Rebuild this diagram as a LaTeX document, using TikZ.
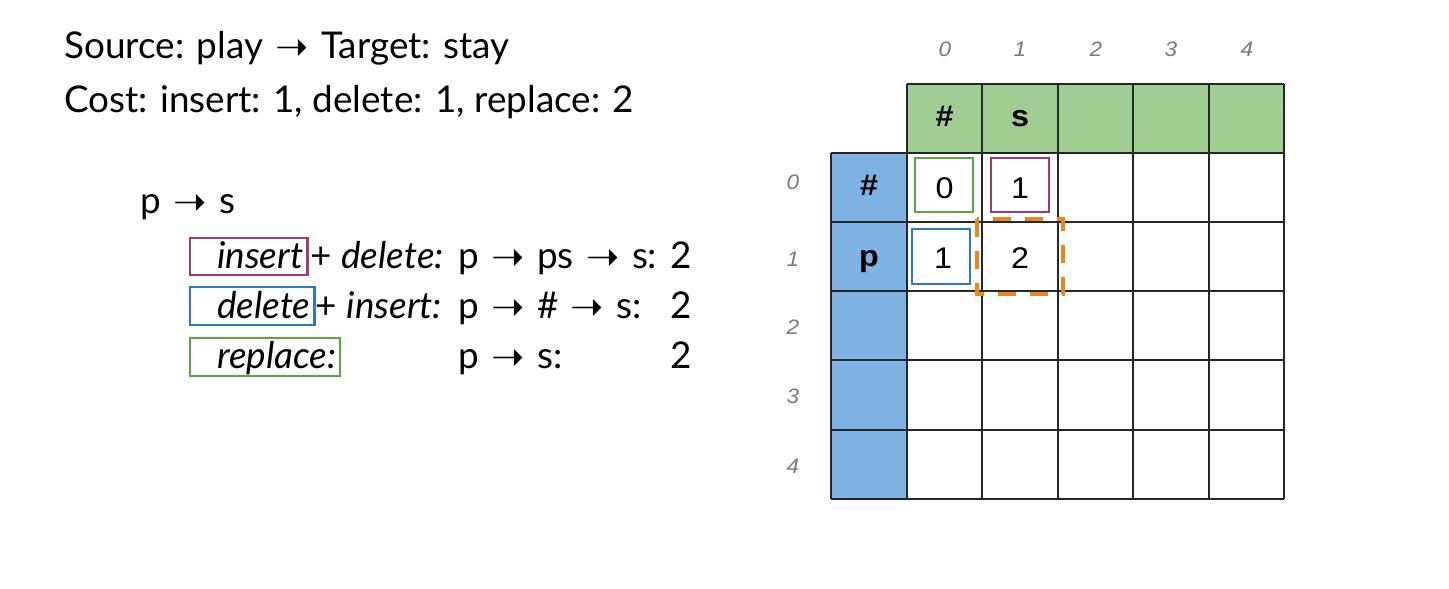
\documentclass[tikz,border=0pt]{standalone}
\usepackage{fontspec}
\setmainfont{Lato}
\newfontfamily\arial{Liberation Sans}[FakeStretch=1.08]
\newfontfamily\dejavu{DejaVu Sans}
\newcommand{\arw}{{\hspace{3bp}\dejavu\fontsize{40}{40}\selectfont\raisebox{-2bp}{➝}\hspace{3bp}}}
\begin{document}
\begin{tikzpicture}[x=1bp,y=-1bp,
  txt/.style={anchor=base west, inner sep=0pt, font=\fontsize{37}{44}\selectfont},
  cellbold/.style={anchor=base, inner sep=0pt, font=\arial\bfseries\fontsize{30}{34}\selectfont},
  cellnum/.style={anchor=base, inner sep=0pt, font=\arial\fontsize{30}{34}\selectfont},
  idx/.style={anchor=base, inner sep=0pt, text=idxgray, font=\arial\itshape\fontsize{21}{24}\selectfont},
  gridline/.style={line width=1.9bp, draw=black!85},
  hlbox/.style={line width=2.6bp},
  txtbox/.style={line width=2.4bp},
  dashbox/.style={line width=4.5bp, draw=orng, dash pattern=on 18bp off 14bp}
]
\definecolor{hdrgreen}{HTML}{A0CE92}
\definecolor{hdrblue}{HTML}{7EB3E4}
\definecolor{bxgreen}{HTML}{5BA546}
\definecolor{bxpurple}{HTML}{A33A70}
\definecolor{bxblue}{HTML}{2F78C4}
\definecolor{orng}{HTML}{E8871E}
\definecolor{idxgray}{HTML}{7A7A7A}
\useasboundingbox[fill=white] (0,0) rectangle (1449,589);

% ---------- left text ----------
\node[txt] (src) at (64,59) {Source: play \arw{} Target: stay};
\node[txt] (cost) at (64,113) {Cost: insert: 1, delete: 1, replace: 2};
\node[txt] (ps) at (140,214) {p \arw{} s};

\node[txt] (ins) at (217,268) {\itshape insert};
\node[txt] (insr) at ([xshift=7bp]ins.base east) {+ \itshape delete:};
\node[txt] (ins2) at (458,268) {p \arw{} ps \arw{} s:};
\node[txt] (ins3) at (670,268) {2};

\node[txt] (del) at (217,318) {\itshape delete};
\node[txt] (delr) at ([xshift=5bp]del.base east) {+ \itshape insert:};
\node[txt] (del2) at (458,318) {p \arw{} \# \arw{} s:};
\node[txt] (del3) at (670,318) {2};

\node[txt] (rep) at (217,368) {\itshape replace:};
\node[txt] (rep2) at (458,368) {p \arw{} s:};
\node[txt] (rep3) at (670,368) {2};

\coordinate (insE) at ([xshift=4bp]ins.base east);
\coordinate (delE) at ([xshift=4bp]del.base east);
\coordinate (repE) at ([xshift=3bp]rep.base east);
\draw[txtbox, draw=bxpurple] (190,238) rectangle (insE |- 0,275);
\draw[txtbox, draw=bxblue] (190,287) rectangle (delE |- 0,325);
\draw[txtbox, draw=bxgreen] (190,338) rectangle (repE |- 0,376);

% ---------- table ----------
\fill[hdrgreen] (907,84) rectangle (1284,153);
\fill[hdrblue] (831,153) rectangle (907,499);
\foreach \x in {907,982,1058,1133,1209,1284} \draw[gridline] (\x,84) -- (\x,499);
\draw[gridline] (831,153) -- (831,499);
\draw[gridline] (907,84) -- (1284,84);
\foreach \y in {153,222,291,360,430,499} \draw[gridline] (831,\y) -- (1284,\y);

% header letters
\node[cellbold] (h0) at (944.5,127) {\#};
\node[cellbold] (h1) at (1020,127) {s};
\node[cellbold] (r0) at (869,196) {\#};
\node[cellbold] (r1) at (869,266) {p};

% column / row indices
\foreach \i/\x in {0/945,1/1020,2/1096,3/1171,4/1247}
  \node[idx] (c\i) at (\x,57) {\i};
\foreach \i/\y in {0/190,1/266,2/334,3/403,4/473}
  \node[idx] (ri\i) at (793,\y) {\i};

% cell values
\node[cellnum] (v00) at (944.5,199) {0};
\node[cellnum] (v01) at (1020,199) {1};
\node[cellnum] (v10) at (943,268) {1};
\node[cellnum] (v11) at (1020,268) {2};

% highlight boxes
\draw[hlbox, draw=bxgreen] (915,158) rectangle (973,212);
\draw[hlbox, draw=bxpurple] (991,158) rectangle (1049,212);
\draw[hlbox, draw=bxblue] (912,229) rectangle (970,284);
\draw[dashbox] (977,219) rectangle (1063,294);
\end{tikzpicture}
\end{document}
